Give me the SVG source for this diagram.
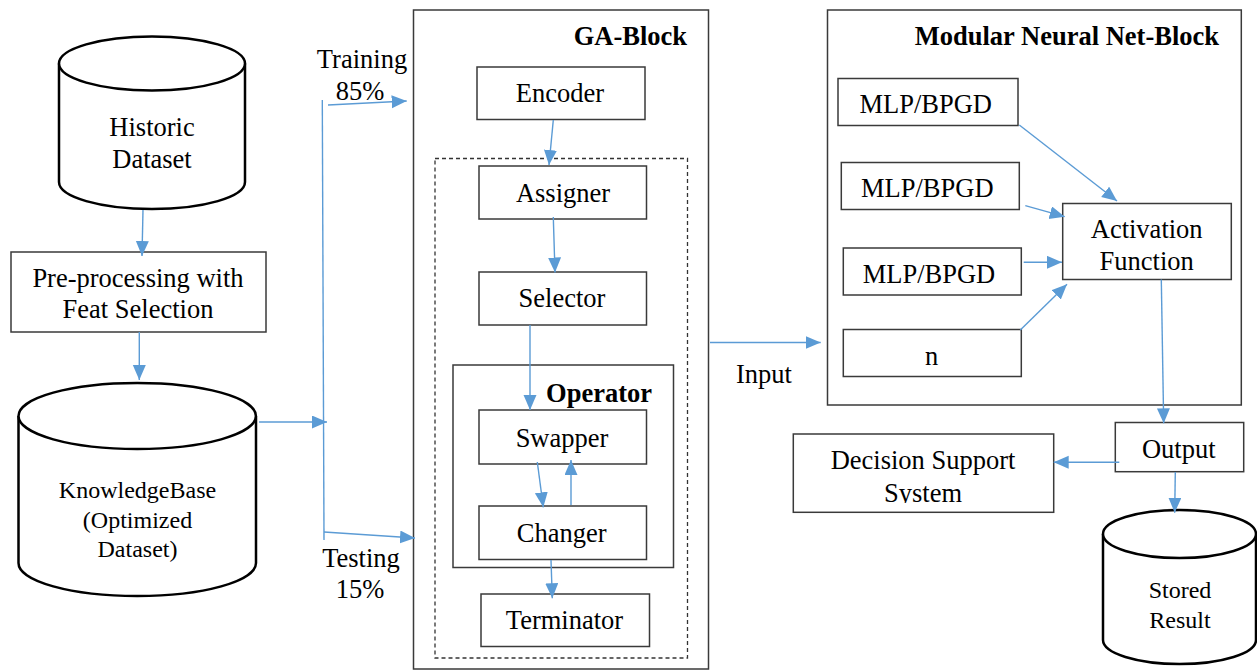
<svg xmlns="http://www.w3.org/2000/svg" width="1257" height="671" viewBox="0 0 1257 671">
<style>
text{font-family:"Liberation Serif","Times New Roman",Times,serif;font-size:26.5px;fill:#000;text-anchor:middle}
.b{font-weight:bold;text-anchor:end}
.s{font-size:24px}
.box{fill:#fff;stroke:#3a3a3a;stroke-width:1.5}
.blk{fill:none;stroke:#3a3a3a;stroke-width:1.5}
.dash{fill:none;stroke:#333;stroke-width:1.3;stroke-dasharray:4 3}
.cyl{fill:#fff;stroke:#000;stroke-width:2.5}
.c{fill:none;stroke:#5B9BD5;stroke-width:1.4}
.a{marker-end:url(#ah)}
</style>
<defs>
<marker id="ah" markerUnits="userSpaceOnUse" markerWidth="16" markerHeight="14" refX="15" refY="6.5" orient="auto">
<path d="M0,0 L15,6.5 L0,13 z" fill="#5B9BD5"/>
</marker>
<clipPath id="dssclip"><rect x="793" y="434" width="261" height="69"/></clipPath>
</defs>

<g id="historic">
<path class="cyl" d="M59,63.5 L59,182 A93,27 0 0 0 245,182 L245,63.5"/>
<ellipse class="cyl" cx="152" cy="63.5" rx="93" ry="27"/>
<text x="152" y="136">Historic</text>
<text x="152" y="168">Dataset</text>
</g>

<g id="preprocessing">
<rect class="box" x="11" y="252" width="255" height="80"/>
<text x="138" y="287">Pre-processing with</text>
<text x="138" y="318">Feat Selection</text>
</g>

<g id="knowledgebase">
<path class="cyl" d="M18.5,416 L18.5,563 A118.7,33 0 0 0 256,563 L256,416"/>
<ellipse class="cyl" cx="137.2" cy="416" rx="118.7" ry="33"/>
<text class="s" x="137.5" y="498">KnowledgeBase</text>
<text class="s" x="137.5" y="528">(Optimized</text>
<text class="s" x="137.5" y="557">Dataset)</text>
</g>

<g id="split-labels">
<text x="362" y="68">Training</text>
<text x="360" y="100">85%</text>
<text x="361" y="567">Testing</text>
<text x="360" y="598">15%</text>
</g>

<g id="ga-block">
<rect class="blk" x="413.5" y="10" width="295" height="659"/>
<text class="b" x="687" y="45">GA-Block</text>
<rect class="dash" x="435" y="158.5" width="252.5" height="499.5"/>
</g>

<g id="encoder">
<rect class="box" x="477" y="67" width="168" height="52.5"/>
<text x="560" y="101.7">Encoder</text>
</g>
<g id="assigner">
<rect class="box" x="479" y="166" width="167.5" height="53"/>
<text x="563" y="201.7">Assigner</text>
</g>
<g id="selector">
<rect class="box" x="479" y="272" width="167.5" height="53"/>
<text x="562" y="307.3">Selector</text>
</g>
<g id="operator">
<rect class="blk" x="453" y="365" width="220.5" height="202.5"/>
<text class="b" x="652" y="401.7">Operator</text>
</g>
<g id="swapper">
<rect class="box" x="479" y="410" width="167.5" height="54"/>
<text x="562" y="446.7">Swapper</text>
</g>
<g id="changer">
<rect class="box" x="479" y="506" width="167.5" height="53.5"/>
<text x="561.7" y="541.7">Changer</text>
</g>
<g id="terminator">
<rect class="box" x="481" y="594" width="168.5" height="52.5"/>
<text x="564.5" y="629">Terminator</text>
</g>

<g id="input-label">
<text x="764" y="383">Input</text>
</g>

<g id="modular-block">
<rect class="blk" x="827.5" y="10" width="413.8" height="395"/>
<text class="b" x="1219" y="45">Modular Neural Net-Block</text>
</g>
<g id="mlp1">
<rect class="box" x="838" y="78.5" width="180" height="47"/>
<text x="925.7" y="113.3">MLP/BPGD</text>
</g>
<g id="mlp2">
<rect class="box" x="841.3" y="162.5" width="178" height="47"/>
<text x="927.3" y="197.3">MLP/BPGD</text>
</g>
<g id="mlp3">
<rect class="box" x="843.3" y="248" width="178" height="47"/>
<text x="929" y="283.3">MLP/BPGD</text>
</g>
<g id="mlpn">
<rect class="box" x="843.3" y="329.5" width="178" height="47"/>
<text x="931.7" y="365">n</text>
</g>
<g id="activation">
<rect class="box" x="1062.7" y="203.5" width="168.6" height="76"/>
<text x="1146.7" y="238.3">Activation</text>
<text x="1146.7" y="270">Function</text>
</g>
<g id="output">
<rect class="box" x="1115.3" y="422.5" width="128.4" height="49.2"/>
<text x="1178.7" y="458.3">Output</text>
</g>
<g id="dss">
<rect class="box" x="793.3" y="434" width="260.4" height="78.3"/>
<g clip-path="url(#dssclip)">
<text x="923" y="469.3">Decision Support</text>
<text x="923" y="501.7">System</text>
</g>
</g>
<g id="stored">
<path class="cyl" d="M1103,534 L1103,640 A76.5,24 0 0 0 1256,640 L1256,534"/>
<ellipse class="cyl" cx="1179.5" cy="534" rx="76.5" ry="24"/>
<text class="s" x="1180" y="598">Stored</text>
<text class="s" x="1180" y="628">Result</text>
</g>

<g id="connectors">
<line class="c a" x1="143" y1="210" x2="142" y2="256"/>
<line class="c a" x1="139.3" y1="332" x2="139.3" y2="380"/>
<line class="c a" x1="259" y1="422" x2="327" y2="422"/>
<line class="c" x1="322.3" y1="100" x2="324" y2="540"/>
<line class="c a" x1="328" y1="105" x2="406.7" y2="101"/>
<line class="c a" x1="324" y1="532" x2="415" y2="538"/>
<line class="c a" x1="553.3" y1="120" x2="549" y2="165"/>
<line class="c a" x1="553.3" y1="217" x2="555" y2="272.5"/>
<line class="c a" x1="530" y1="325" x2="530" y2="410"/>
<line class="c a" x1="537.3" y1="462" x2="543.3" y2="507.3"/>
<line class="c a" x1="571" y1="505" x2="571" y2="460"/>
<line class="c a" x1="551" y1="560" x2="552.3" y2="598.3"/>
<line class="c a" x1="710" y1="342.5" x2="820.7" y2="342.5"/>
<line class="c a" x1="1019.3" y1="125" x2="1117" y2="201"/>
<line class="c a" x1="1025.3" y1="205.7" x2="1064.7" y2="216.7"/>
<line class="c a" x1="1023.7" y1="262.3" x2="1062" y2="262.3"/>
<line class="c a" x1="1020.3" y1="330" x2="1067" y2="284.3"/>
<line class="c a" x1="1161.3" y1="279.5" x2="1163.7" y2="423.3"/>
<line class="c a" x1="1119.3" y1="462.3" x2="1053.7" y2="462.3"/>
<line class="c a" x1="1175.3" y1="472" x2="1174.7" y2="512.7"/>
</g>
</svg>
